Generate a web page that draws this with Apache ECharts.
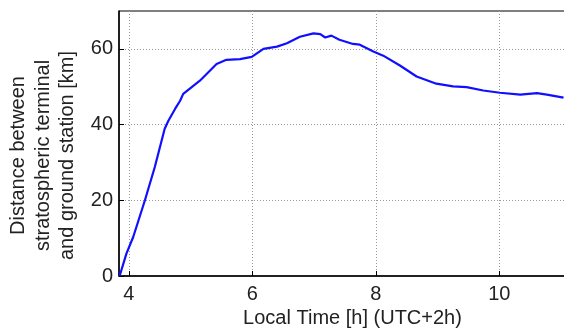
<!DOCTYPE html>
<html>
<head>
<meta charset="utf-8">
<script src="https://cdn.jsdelivr.net/npm/echarts@6/dist/echarts.min.js"></script>
<style>
  html, body { margin: 0; padding: 0; background: #fff; }
  #chart { width: 564px; height: 329px; }
</style>
</head>
<body>
<div id="chart"></div>
<script>
// local time [h] and distance [km]
const timeHours = [3.85, 3.96, 4.07, 4.26, 4.42, 4.58, 4.64, 4.75, 4.83, 4.88, 5.15, 5.42, 5.58, 5.80,
  5.99, 6.18, 6.40, 6.56, 6.77, 6.99, 7.10, 7.18, 7.28, 7.41, 7.63, 7.74, 7.96, 8.12, 8.39, 8.66,
  8.98, 9.25, 9.47, 9.74, 10.01, 10.34, 10.61, 10.77, 11.04];
const distanceKm = [0, 5.9, 10.3, 20, 28.8, 38.9, 41, 44.2, 46.3, 48.1, 51.6, 56, 57.1, 57.3,
  57.9, 60, 60.6, 61.5, 63.2, 64.1, 63.9, 63, 63.5, 62.4, 61.3, 61.1, 59.3, 58.2, 55.6, 52.7,
  50.8, 50.1, 49.9, 49, 48.4, 47.9, 48.3, 47.9, 47.1];
const xTicks = [4, 6, 8, 10];
const yTicks = [0, 20, 40, 60];

const chart = echarts.init(document.getElementById('chart'));
const font = 'Liberation Sans, Arial, sans-serif';
const dotted = {show: true, lineStyle: {color: '#999', type: [1, 2], width: 1}};

chart.setOption({
  animation: false,
  backgroundColor: '#fff',
  grid: {left: 119, right: -2, top: 11, bottom: 53, show: true, borderColor: '#000', borderWidth: 1,
    outerBoundsMode: 'none', containLabel: false},
  xAxis: {
    type: 'value', min: 3.84, max: 11.08,
    name: 'Local Time [h] (UTC+2h)', nameLocation: 'middle', nameGap: 29,
    nameTextStyle: {fontFamily: font, fontSize: 20, color: '#222', padding: [0, 0, 0, 20]},
    axisLine: {show: true, lineStyle: {color: '#000', width: 1.5}},
    axisTick: {show: true, inside: true, length: 5, customValues: xTicks, lineStyle: {color: '#000'}},
    axisLabel: {customValues: xTicks, fontFamily: font, fontSize: 20, color: '#222', margin: 8},
    splitLine: dotted
  },
  yAxis: {
    type: 'value', min: 0, max: 70,
    name: 'Distance between\nstratospheric terminal\nand ground station [km]',
    nameLocation: 'middle', nameGap: 38, nameRotate: 90,
    nameTextStyle: {fontFamily: font, fontSize: 20, color: '#222', lineHeight: 24.5, align: 'center',
      padding: [0, 24, 0, 0]},
    axisLine: {show: true, lineStyle: {color: '#000', width: 1.5}},
    axisTick: {show: true, inside: true, length: 5, customValues: yTicks, lineStyle: {color: '#000'}},
    axisLabel: {customValues: yTicks, fontFamily: font, fontSize: 20, color: '#222', margin: 6},
    splitLine: dotted
  },
  series: [{
    type: 'line',
    data: timeHours.map((t, i) => [t, distanceKm[i]]),
    showSymbol: false,
    lineStyle: {color: '#1010ff', width: 2.2},
    clip: true
  }]
});
</script>
</body>
</html>
